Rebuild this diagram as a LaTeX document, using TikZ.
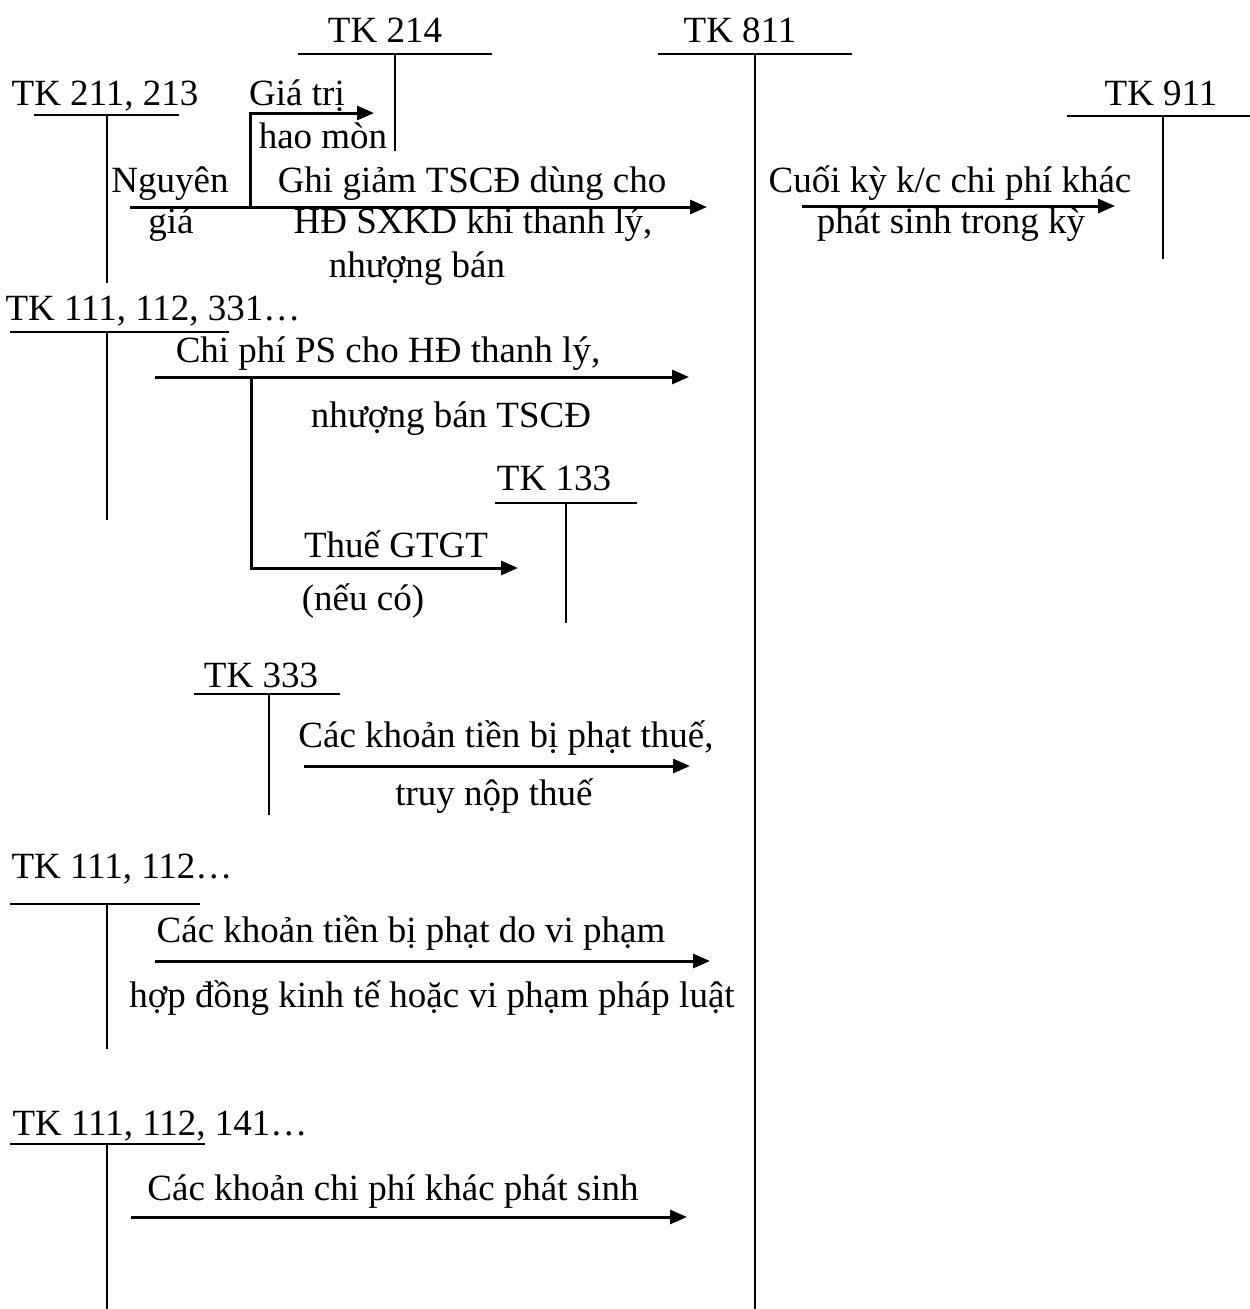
\documentclass[tikz,border=0pt]{standalone}
\usepackage{fontspec}
\setmainfont{Liberation Serif}
\usetikzlibrary{arrows.meta}
\begin{document}
\begin{tikzpicture}[x=1pt,y=-1pt,
  lbl/.style={anchor=base, inner sep=0pt, font=\fontsize{37}{41}\selectfont},
  tline/.style={line width=2.2pt},
  flow/.style={line width=3pt, -{Triangle[length=17pt,width=14pt]}}]
\useasboundingbox (0,0) rectangle (1250,1309);
% account titles
\node[lbl] (n214) at (385,42) {TK 214};
\node[lbl] (n811) at (740,42) {TK 811};
\node[lbl] (n911) at (1161,105) {TK 911};
\node[lbl] (n211) at (105,105) {TK 211, 213};
\node[lbl] (n111a) at (153,320) {TK 111, 112, 331…};
\node[lbl] (n133) at (554,490) {TK 133};
\node[lbl] (n333) at (261,687) {TK 333};
\node[lbl] (n111b) at (122,878) {TK 111, 112…};
\node[lbl] (n111c) at (160,1135) {TK 111, 112, 141…};
% T-account coordinates
\coordinate (h214a) at (298,54);  \coordinate (h214b) at (492,54);
\coordinate (v214a) at (395,54);  \coordinate (v214b) at (395,151);
\coordinate (h811a) at (658,54);  \coordinate (h811b) at (852,54);
\coordinate (v811a) at (755,54);  \coordinate (v811b) at (755,1309);
\coordinate (h911a) at (1067,116); \coordinate (h911b) at (1250,116);
\coordinate (v911a) at (1163,116); \coordinate (v911b) at (1163,259);
\coordinate (h211a) at (34,115);  \coordinate (h211b) at (179,115);
\coordinate (v211a) at (107,115); \coordinate (v211b) at (107,283);
\coordinate (h111aa) at (10,332); \coordinate (h111ab) at (229,332);
\coordinate (v111aa) at (107,332); \coordinate (v111ab) at (107,520);
\coordinate (h133a) at (495,503); \coordinate (h133b) at (637,503);
\coordinate (v133a) at (566,503); \coordinate (v133b) at (566,623);
\coordinate (h333a) at (194,694); \coordinate (h333b) at (340,694);
\coordinate (v333a) at (269,694); \coordinate (v333b) at (269,815);
\coordinate (h111ba) at (10,904); \coordinate (h111bb) at (200,904);
\coordinate (v111ba) at (107,904); \coordinate (v111bb) at (107,1049);
\coordinate (h111ca) at (10,1144); \coordinate (h111cb) at (205,1144);
\coordinate (v111ca) at (107,1144); \coordinate (v111cb) at (107,1309);
\foreach \t in {214,811,911,211,133,333}{
  \draw[tline] (h\t a) -- (h\t b);
  \draw[tline] (v\t a) -- (v\t b);
}
\foreach \t in {111a,111b,111c}{
  \draw[tline] (h\t a) -- (h\t b);
  \draw[tline] (v\t a) -- (v\t b);
}
% flow coordinates
\coordinate (a1s) at (130,207); \coordinate (a1e) at (707,207);
\coordinate (b1s) at (250,207); \coordinate (b1e) at (374,113);
\coordinate (a2s) at (802,206); \coordinate (a2e) at (1115,206);
\coordinate (a3s) at (155,377); \coordinate (a3e) at (689,377);
\coordinate (b3s) at (251,377); \coordinate (b3e) at (518,568);
\coordinate (a4s) at (304,766); \coordinate (a4e) at (690,766);
\coordinate (a5s) at (155,961); \coordinate (a5e) at (710,961);
\coordinate (a6s) at (131,1217); \coordinate (a6e) at (687,1217);
\draw[flow] (a1s) -- (a1e);
\draw[flow] (b1s) |- (b1e);
\draw[flow] (a2s) -- (a2e);
\draw[flow] (a3s) -- (a3e);
\draw[flow] (b3s) |- (b3e);
\draw[flow] (a4s) -- (a4e);
\draw[flow] (a5s) -- (a5e);
\draw[flow] (a6s) -- (a6e);
% labels
\node[lbl] (giatri) at (297,105) {Giá trị};
\node[lbl] (haomon) at (323,148) {hao mòn};
\node[lbl] (nguyen) at (170,192) {Nguyên};
\node[lbl] (gia) at (171,233) {giá};
\node[lbl] (gg1) at (472,192) {Ghi giảm TSCĐ dùng cho};
\node[lbl] (gg2) at (473,233) {HĐ SXKD khi thanh lý,};
\node[lbl] (gg3) at (417,277) {nhượng bán};
\node[lbl] (ck1) at (950,192) {Cuối kỳ k/c chi phí khác};
\node[lbl] (ck2) at (951,233) {phát sinh trong kỳ};
\node[lbl] (cp1) at (388,362) {Chi phí PS cho HĐ thanh lý,};
\node[lbl] (cp2) at (451,427) {nhượng bán TSCĐ};
\node[lbl] (th1) at (396,557) {Thuế GTGT};
\node[lbl] (th2) at (363,610) {(nếu có)};
\node[lbl] (ph1) at (506,747) {Các khoản tiền bị phạt thuế,};
\node[lbl] (ph2) at (494,805) {truy nộp thuế};
\node[lbl] (vp1) at (411,942) {Các khoản tiền bị phạt do vi phạm};
\node[lbl] (vp2) at (432,1007) {hợp đồng kinh tế hoặc vi phạm pháp luật};
\node[lbl] (kh) at (393,1200) {Các khoản chi phí khác phát sinh};
\end{tikzpicture}
\end{document}
